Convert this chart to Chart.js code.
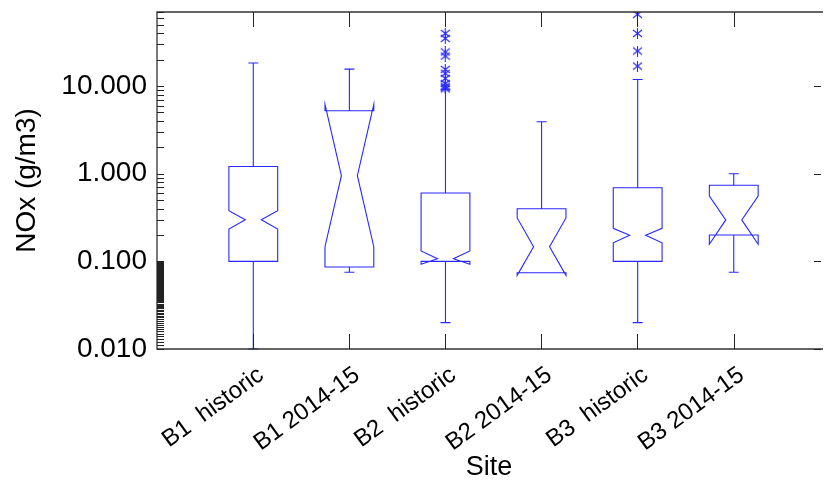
<!DOCTYPE html>
<html>
<head>
<meta charset="utf-8">
<script src="https://cdn.jsdelivr.net/npm/chart.js@4.4.0/dist/chart.umd.min.js"></script>
<style>
  body { margin: 0; background: #fff; }
  #wrap { width: 826px; height: 486px; }
</style>
</head>
<body>
<div id="wrap"><canvas id="boxChart" width="826" height="486"></canvas></div>
<script>
// values
const sites = ['B1  historic', 'B1 2014-15', 'B2  historic', 'B2 2014-15', 'B3  historic', 'B3 2014-15'];
const whiskerLow = [0.01, 0.0752, 0.02, 0.074, 0.02, 0.0752];
const q1 = [0.1, 0.0863, 0.1, 0.074, 0.1, 0.2];
const notchLow = [0.234, 0.147, 0.0927, 0.0693, 0.163, 0.157];
const median = [0.299, 0.948, 0.107, 0.147, 0.198, 0.297];
const notchHigh = [0.378, 6.18, 0.1316, 0.313, 0.238, 0.557];
const q3 = [1.21, 5.22, 0.602, 0.399, 0.692, 0.738];
const whiskerHigh = [18.3, 15.6, 9.2, 3.92, 11.9, 1.0];
const outliers = [
  [],
  [],
  [39.9, 35.0, 24.5, 22.0, 15.5, 14.0, 12.2, 10.7, 10.0, 9.6, 9.3],
  [],
  [65.8, 39.9, 25.1, 16.9],
  []
];
const yTicks = [0.01, 0.1, 1, 10];

const BLUE = 'rgb(40,40,255)';
const AXIS = '#333';
const FONT = "'Liberation Sans', Arial, sans-serif";

let outlierPoints = [];
outliers.forEach((list, i) => list.forEach(v => outlierPoints.push({ x: i + 1, y: v })));

// asterisk marker: an x with a vertical stroke through it
const marker = document.createElement('canvas');
marker.width = 11; marker.height = 11;
(function () {
  const m = marker.getContext('2d');
  m.strokeStyle = BLUE;
  m.lineWidth = 1.1;
  m.beginPath();
  m.moveTo(1, 2); m.lineTo(10, 9);
  m.moveTo(10, 2); m.lineTo(1, 9);
  m.moveTo(5.5, 0); m.lineTo(5.5, 11);
  m.stroke();
})();

// frame + inward tick marks
const framePlugin = {
  id: 'frame',
  afterDraw(chart) {
    const { ctx, chartArea: a, scales: { x, y } } = chart;
    ctx.save();
    ctx.strokeStyle = AXIS;
    ctx.lineWidth = 1.3;
    ctx.beginPath();
    ctx.moveTo(a.right + 2, a.top); ctx.lineTo(a.left, a.top);
    ctx.lineTo(a.left, a.bottom); ctx.lineTo(a.right + 2, a.bottom);
    ctx.stroke();

    ctx.strokeStyle = '#222';
    ctx.lineWidth = 1;
    ctx.beginPath();
    sites.forEach((s, i) => {
      const px = Math.round(x.getPixelForValue(i + 1)) + 0.5;
      ctx.moveTo(px, a.bottom); ctx.lineTo(px, a.bottom - 15);
      ctx.moveTo(px, a.top); ctx.lineTo(px, a.top + 15);
    });
    // minor ticks on the left, majors on both sides
    const minor = [];
    for (let k = 11; k < 100; k++) minor.push(k / 1000);
    for (let k = 2; k < 10; k++) minor.push(k / 10, k);
    for (let k = 2; k <= 7; k++) minor.push(k * 10);
    minor.concat(yTicks).forEach(v => {
      const py = Math.round(y.getPixelForValue(v)) + 0.5;
      ctx.moveTo(a.left, py); ctx.lineTo(a.left + 7, py);
    });
    yTicks.forEach(v => {
      const py = Math.round(y.getPixelForValue(v)) + 0.5;
      ctx.moveTo(a.right, py); ctx.lineTo(a.right - 7, py);
    });
    ctx.stroke();
    ctx.restore();
  }
};

// notched boxes and whiskers
const boxPlugin = {
  id: 'notchedBoxes',
  afterDatasetsDraw(chart) {
    const { ctx, scales: { x, y } } = chart;
    const half = 24.4, tip = 8, cap = 5;
    ctx.save();
    ctx.strokeStyle = BLUE;
    ctx.lineWidth = 1.1;
    sites.forEach((s, i) => {
      const cx = x.getPixelForValue(i + 1) + 0.2;
      const py = v => y.getPixelForValue(v);
      const L = cx - half, R = cx + half;
      ctx.beginPath();
      ctx.moveTo(L, py(q1[i]));
      ctx.lineTo(L, py(notchLow[i]));
      ctx.lineTo(cx - tip, py(median[i]));
      ctx.lineTo(L, py(notchHigh[i]));
      ctx.lineTo(L, py(q3[i]));
      ctx.lineTo(R, py(q3[i]));
      ctx.lineTo(R, py(notchHigh[i]));
      ctx.lineTo(cx + tip, py(median[i]));
      ctx.lineTo(R, py(notchLow[i]));
      ctx.lineTo(R, py(q1[i]));
      ctx.closePath();
      // whiskers
      ctx.moveTo(cx, py(q3[i])); ctx.lineTo(cx, py(whiskerHigh[i]));
      ctx.moveTo(cx - cap, py(whiskerHigh[i])); ctx.lineTo(cx + cap, py(whiskerHigh[i]));
      ctx.moveTo(cx, py(q1[i])); ctx.lineTo(cx, py(whiskerLow[i]));
      ctx.moveTo(cx - cap, py(whiskerLow[i])); ctx.lineTo(cx + cap, py(whiskerLow[i]));
      ctx.stroke();
    });
    ctx.restore();
  }
};

new Chart(document.getElementById('boxChart'), {
  type: 'scatter',
  data: {
    datasets: [{
      label: 'outliers',
      data: outlierPoints,
      pointStyle: marker,
      borderColor: BLUE,
      backgroundColor: BLUE
    }]
  },
  options: {
    responsive: false,
    animation: false,
    layout: { padding: { top: 12, right: 0, bottom: 0, left: 0 } },
    plugins: { legend: { display: false }, tooltip: { enabled: false } },
    scales: {
      x: {
        type: 'linear',
        min: 0,
        max: 6.91,
        grid: { display: false, drawTicks: false },
        border: { display: false },
        afterBuildTicks: s => { s.ticks = sites.map((_, i) => ({ value: i + 1 })); },
        afterFit: s => { s.height = 137; s.paddingLeft = 0; s.paddingRight = 0; },
        ticks: {
          autoSkip: false,
          minRotation: 36,
          maxRotation: 36,
          padding: 12,
          labelOffset: 8,
          color: '#000',
          font: { family: FONT, size: 24 },
          callback: (v, i) => sites[i]
        },
        title: {
          display: true,
          text: 'Site',
          color: '#000',
          font: { family: FONT, size: 27 },
          padding: { top: 0, bottom: 2 }
        }
      },
      y: {
        type: 'logarithmic',
        min: 0.01,
        max: 70,
        grid: { display: false, drawTicks: false },
        border: { display: false },
        afterBuildTicks: s => { s.ticks = yTicks.map(v => ({ value: v })); },
        afterFit: s => { s.width = 157; s.paddingTop = 0; s.paddingBottom = 0; },
        ticks: {
          autoSkip: false,
          padding: 10,
          color: '#000',
          font: { family: FONT, size: 28 },
          callback: v => Number(v).toFixed(3)
        },
        title: {
          display: true,
          text: 'NOx (g/m3)',
          color: '#000',
          font: { family: FONT, size: 28 },
          padding: { top: 10, bottom: 0 }
        }
      }
    }
  },
  plugins: [framePlugin, boxPlugin]
});
</script>
</body>
</html>
